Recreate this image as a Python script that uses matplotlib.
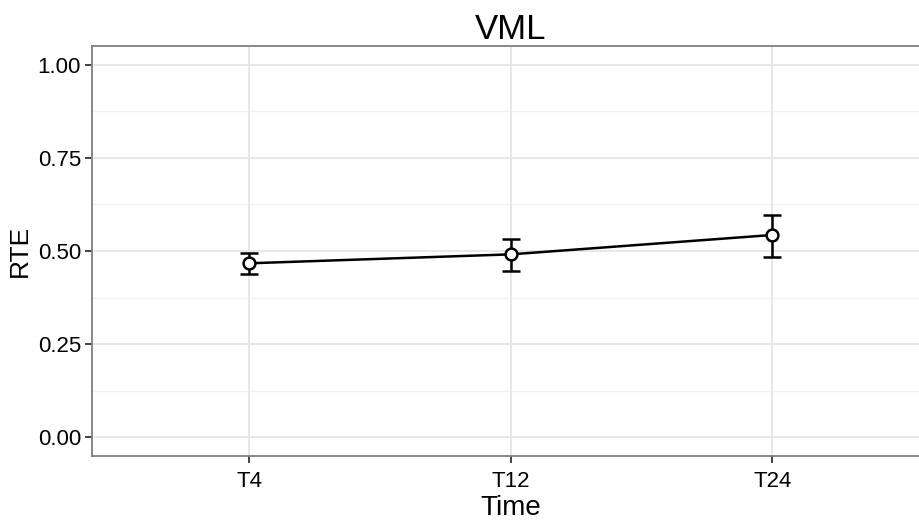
import matplotlib
matplotlib.use("Agg")
import matplotlib.pyplot as plt
import numpy as np

plt.rcParams['font.family'] = ['Liberation Sans', 'DejaVu Sans']

times = ["T4", "T12", "T24"]
rte_mean = [0.467, 0.491, 0.543]
rte_low = [0.438, 0.447, 0.485]
rte_high = [0.494, 0.532, 0.596]
yticks = [0.00, 0.25, 0.50, 0.75, 1.00]
ytick_labels = ["0.00", "0.25", "0.50", "0.75", "1.00"]

fig = plt.figure(figsize=(9.2, 5.23), dpi=100)
ax = fig.add_axes([92/920, 67/523, (929.5-92)/920, (456-46)/523])

x = np.arange(1, len(times) + 1)
mean = np.array(rte_mean)
yerr = np.vstack([mean - np.array(rte_low), np.array(rte_high) - mean])

ax.set_xlim(0.4, 3.6)
ax.set_ylim(-0.05, 1.05)

# grid
for v in [0.125, 0.375, 0.625, 0.875]:
    ax.axhline(v, color='#f2f2f2', lw=1.0, zorder=0)
for v in yticks:
    ax.axhline(v, color='#e6e6e6', lw=1.3, zorder=0)
for v in x:
    ax.axvline(v, color='#e6e6e6', lw=1.3, zorder=0)

ax.errorbar(x, mean, yerr=yerr, fmt='none', ecolor='black', elinewidth=1.8,
            capsize=6.5, capthick=1.8, zorder=2)
ax.plot(x, mean, color='black', lw=1.8, zorder=3)
ax.plot(x, mean, 'o', ms=8.5, mfc='white', mec='black', mew=1.8, zorder=4)

ax.set_xticks(x)
ax.set_xticklabels(times)
ax.set_yticks(yticks)
ax.set_yticklabels(ytick_labels)
ax.tick_params(axis='both', direction='out', length=5, width=1.3,
               color='#333333', labelsize=16, labelcolor='black', pad=3)
ax.tick_params(axis='x', pad=6)

for s in ax.spines.values():
    s.set_color('#7f7f7f')
    s.set_linewidth(1.3)

ax.set_xlabel("Time", fontsize=20, labelpad=2)
ax.set_ylabel("RTE", fontsize=19, labelpad=4)
ax.set_title("VML", fontsize=25, pad=5)

fig.savefig("out.png", dpi=100)
